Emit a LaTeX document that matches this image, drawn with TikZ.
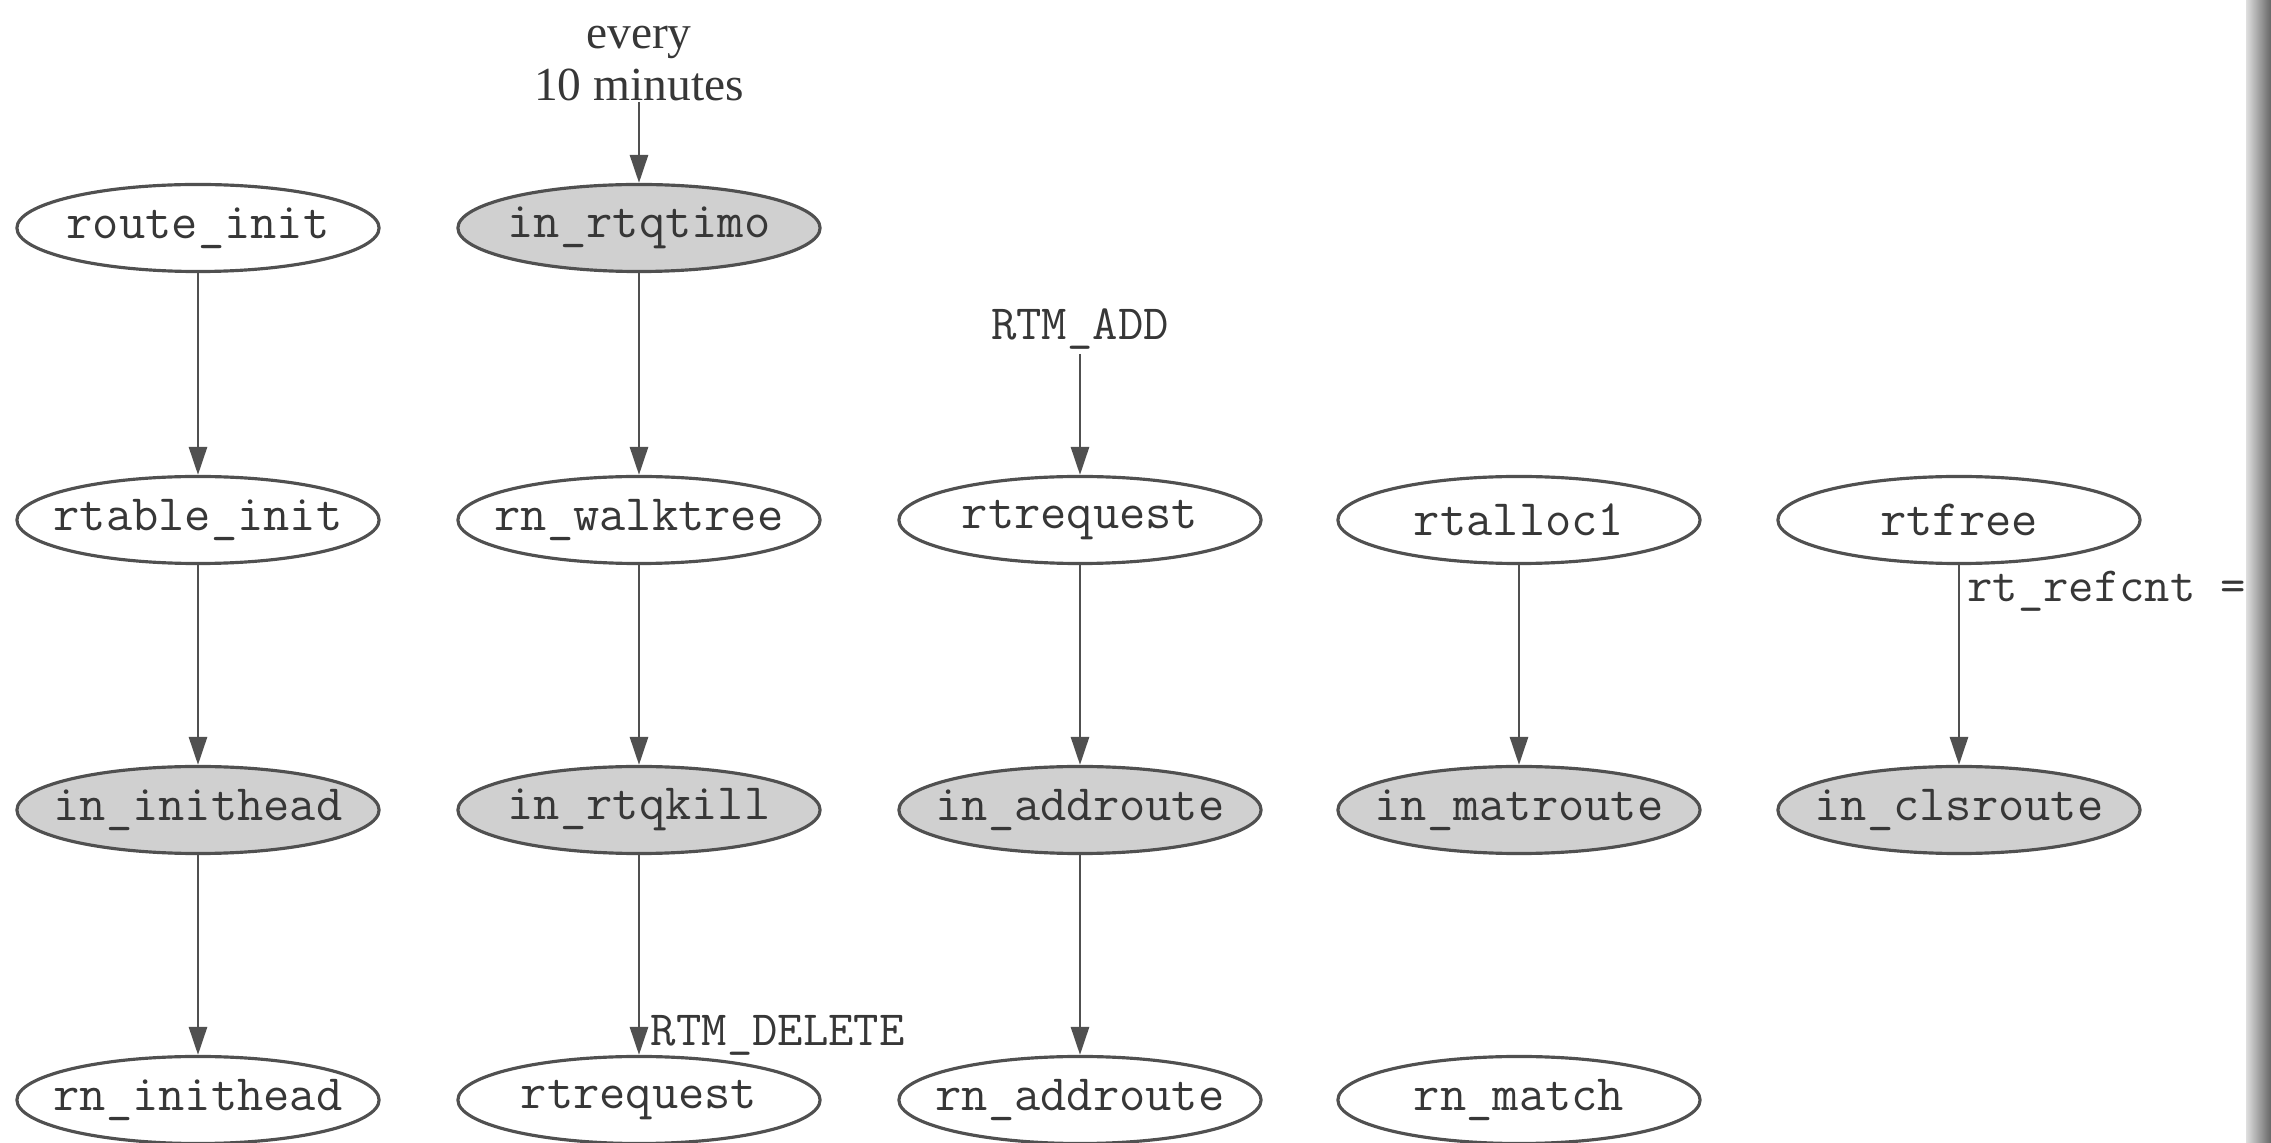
\documentclass[tikz,border=0pt]{standalone}
\usepackage{fontspec}
\setmainfont{Liberation Serif}
\usetikzlibrary{shapes.geometric,arrows.meta}
\definecolor{ln}{RGB}{80,80,80}
\definecolor{tx}{RGB}{55,55,55}
\definecolor{shd}{RGB}{208,208,208}
\begin{document}
\begin{tikzpicture}[x=0.01cm,y=-0.01cm,
  fn/.style={ellipse,draw=ln,line width=0.9pt,minimum width=3.62cm,minimum height=0.87cm,
    inner xsep=-0.6cm,inner ysep=-0.3cm,
    font=\ttfamily\fontsize{14.5}{16}\selectfont,text=tx},
  sh/.style={fn,fill=shd},
  arr/.style={draw=ln,line width=0.8pt,-{Triangle[length=2.8mm,width=1.8mm]}},
  lbl/.style={font=\ttfamily\fontsize{14}{16}\selectfont,text=tx,inner sep=1pt}]
\useasboundingbox (0,0) rectangle (2271,1143);
\clip (0,0) rectangle (2271,1143);
% row 1
\node[fn] (routeinit) at (198,228) {route\_init};
\node[sh] (rtqtimo) at (639,228) {in\_rtqtimo};
% row 2
\node[fn] (rtableinit) at (198,520) {rtable\_init};
\node[fn] (walktree) at (639,520) {rn\_walktree};
\node[fn] (rtrequestA) at (1080,520) {rtrequest};
\node[fn] (rtalloc) at (1519,520) {rtalloc1};
\node[fn] (rtfree) at (1959,520) {rtfree};
% row 3
\node[sh] (inithead) at (198,810) {in\_inithead};
\node[sh] (rtqkill) at (639,810) {in\_rtqkill};
\node[sh] (addroute) at (1080,810) {in\_addroute};
\node[sh] (matroute) at (1519,810) {in\_matroute};
\node[sh] (clsroute) at (1959,810) {in\_clsroute};
% row 4
\node[fn] (rninithead) at (198,1100) {rn\_inithead};
\node[fn] (rtrequestB) at (639,1100) {rtrequest};
\node[fn] (rnaddroute) at (1080,1100) {rn\_addroute};
\node[fn] (rnmatch) at (1519,1100) {rn\_match};
% top labels
\node[font=\fontsize{13.5}{15}\selectfont,text=tx,align=center,inner sep=0pt,anchor=south] (every) at (639,102) {every\\10 minutes};
\node[lbl,anchor=south] (rtmadd) at (1080,354) {RTM\_ADD};
% connectors
\draw[arr] (every.south) -- (rtqtimo.north);
\draw[arr] (rtmadd.south) -- (rtrequestA.north);
\draw[arr] (routeinit) -- (rtableinit);
\draw[arr] (rtableinit) -- (inithead);
\draw[arr] (inithead) -- (rninithead);
\draw[arr] (rtqtimo) -- (walktree);
\draw[arr] (walktree) -- (rtqkill);
\draw[arr] (rtqkill) -- (rtrequestB) node[lbl,pos=0.9,anchor=west,xshift=2pt] (rtmdel) {RTM\_DELETE};
\draw[arr] (rtrequestA) -- (addroute);
\draw[arr] (addroute) -- (rnaddroute);
\draw[arr] (rtalloc) -- (matroute);
\draw[arr] (rtfree) -- (clsroute) node[lbl,pos=0.13,anchor=west,xshift=1pt] (refcnt) {rt\_refcnt =};
% binding shadow at right edge
\shade[left color=gray!25,right color=black!60] (2246,0) rectangle (2271,1143);
\end{tikzpicture}
\end{document}
